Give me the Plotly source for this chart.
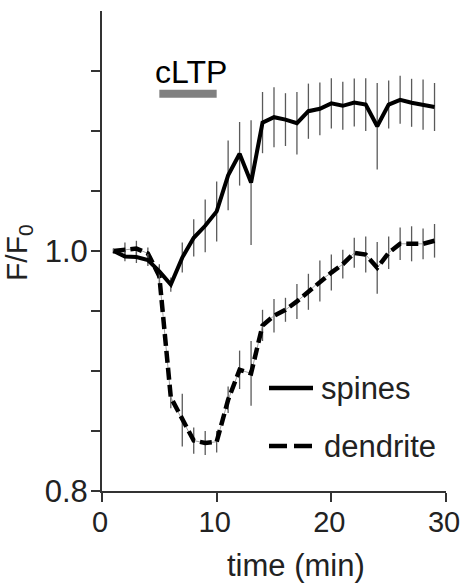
import plotly.graph_objects as go

# ---- data ----
time_min = list(range(1, 30))

spines = [1.000, 0.9955, 0.995, 0.9925, 0.983, 0.972, 0.9945, 1.011, 1.021, 1.033,
          1.063, 1.081, 1.057, 1.107, 1.1115, 1.1095, 1.1065, 1.1165, 1.1185, 1.123,
          1.121, 1.1237, 1.122, 1.104, 1.122, 1.126, 1.1235, 1.122, 1.120]
spines_err = [0.002, 0.004, 0.005, 0.005, 0.006, 0.006, 0.0125, 0.0155, 0.022, 0.025,
              0.029, 0.0265, 0.052, 0.0255, 0.025, 0.022, 0.026, 0.023, 0.022, 0.021,
              0.020, 0.020, 0.022, 0.036, 0.020, 0.020, 0.020, 0.021, 0.020]

dendrite = [1.000, 1.001, 1.002, 0.998, 0.979, 0.878, 0.859, 0.842, 0.840, 0.841,
            0.876, 0.901, 0.898, 0.938, 0.946, 0.951, 0.958, 0.966, 0.975, 0.982,
            0.989, 0.9985, 0.997, 0.986, 0.9985, 1.006, 1.006, 1.006, 1.0085]
dendrite_err = [0.002, 0.006, 0.0065, 0.005, 0.008, 0.009, 0.022, 0.011, 0.010, 0.009,
                0.011, 0.016, 0.027, 0.013, 0.014, 0.010, 0.0146, 0.015, 0.017, 0.015,
                0.012, 0.0125, 0.015, 0.0216, 0.0135, 0.0135, 0.0146, 0.0128, 0.014]

x_ticks = [0, 10, 20, 30]
y_tick_vals = [0.8, 1.0]
y_tick_text = ["0.8", "1.0"]
y_minor_ticks = [0.85, 0.90, 0.95, 1.05, 1.10, 1.15]

cltp_start, cltp_end, cltp_level = 5, 10, 1.131
cltp_label = "cLTP"
series_names = ["spines", "dendrite"]

FONT = "Arial, Liberation Sans, Helvetica, sans-serif"
FS = 31
ERR_COLOR = "#5a5a5a"

fig = go.Figure()

# dendrite: error bars + thin guide line
fig.add_trace(go.Scatter(
    x=time_min, y=dendrite, mode="lines",
    line=dict(color="#8a8a8a", width=0.8),
    error_y=dict(type="data", array=dendrite_err, visible=True,
                 thickness=1.3, width=0, color=ERR_COLOR),
    showlegend=False, hoverinfo="skip"))
# dendrite thick dashed
fig.add_trace(go.Scatter(
    x=time_min, y=dendrite, mode="lines", name=series_names[1],
    line=dict(color="black", width=4.5, dash="12px,5px"),
    showlegend=False))
# spines
fig.add_trace(go.Scatter(
    x=time_min, y=spines, mode="lines", name=series_names[0],
    line=dict(color="black", width=4),
    error_y=dict(type="data", array=spines_err, visible=True,
                 thickness=1.3, width=0, color=ERR_COLOR),
    showlegend=False))

# cLTP bar
fig.add_shape(type="line", xref="x", yref="y",
              x0=cltp_start, x1=cltp_end, y0=cltp_level, y1=cltp_level,
              line=dict(color="#808080", width=8))
fig.add_annotation(x=(cltp_start + cltp_end) / 2 + 0.3, y=cltp_level, xref="x", yref="y",
                   text=cltp_label, showarrow=False, yanchor="bottom", yshift=2,
                   font=dict(family=FONT, size=FS + 1, color="black"))

# manual legend
W, H = 344.0, 480.0
def px2paper(px, py):
    return (px - 102) / W, (491 - py) / H

x0, y0 = px2paper(269, 388)
x1, _ = px2paper(313, 388)
fig.add_shape(type="line", xref="paper", yref="paper", x0=x0, x1=x1, y0=y0, y1=y0,
              line=dict(color="black", width=4.5))
tx, ty = px2paper(319, 388)
fig.add_annotation(x=tx, y=ty, xref="paper", yref="paper", text=series_names[0],
                   showarrow=False, xanchor="left", yanchor="middle",
                   font=dict(family=FONT, size=FS, color="#222"))

x0, y0 = px2paper(269, 446)
x1, _ = px2paper(312, 446)
fig.add_shape(type="line", xref="paper", yref="paper", x0=x0, x1=x1, y0=y0, y1=y0,
              line=dict(color="black", width=4.5, dash="18px,7px"))
tx, ty = px2paper(322, 446)
fig.add_annotation(x=tx, y=ty, xref="paper", yref="paper", text=series_names[1],
                   showarrow=False, xanchor="left", yanchor="middle",
                   font=dict(family=FONT, size=FS, color="#222"))

# axis titles
ax, ay = px2paper(296, 565)
fig.add_annotation(x=ax, y=ay, xref="paper", yref="paper", text="time (min)",
                   showarrow=False, xanchor="center", yanchor="middle",
                   font=dict(family=FONT, size=FS, color="#222"))
ax, ay = px2paper(18, 253)
fig.add_annotation(x=ax, y=ay, xref="paper", yref="paper", text="F/F<sub>0</sub>",
                   showarrow=False, textangle=-90, xanchor="center", yanchor="middle",
                   font=dict(family=FONT, size=30, color="#222"))

axis_common = dict(showline=True, linecolor="#333", linewidth=2, ticks="outside",
                   ticklen=9, tickwidth=2, tickcolor="#333", showgrid=False,
                   zeroline=False, automargin=False, ticklabeloverflow="allow")
fig.update_xaxes(range=[0, 30], tickvals=x_ticks, ticklabelstandoff=-5,
                 ticklabelshift=-2,
                 tickfont=dict(family=FONT, size=29, color="#222"), **axis_common)
fig.update_yaxes(range=[0.8, 1.2], tickvals=y_tick_vals, ticktext=y_tick_text,
                 ticklabelstandoff=-3,
                 tickfont=dict(family=FONT, size=FS, color="#222"),
                 minor=dict(tickvals=y_minor_ticks, ticks="outside", ticklen=9,
                            tickwidth=2, tickcolor="#333", showgrid=False),
                 **axis_common)

fig.update_layout(width=463, height=584, autosize=False,
                  margin=dict(l=102, r=17, t=11, b=93, autoexpand=False),
                  plot_bgcolor="white", paper_bgcolor="white",
                  font=dict(family=FONT, color="#222"), showlegend=False)

fig.write_html("out.html", config={"displayModeBar": False},
               post_script="document.body.style.margin='0';")
